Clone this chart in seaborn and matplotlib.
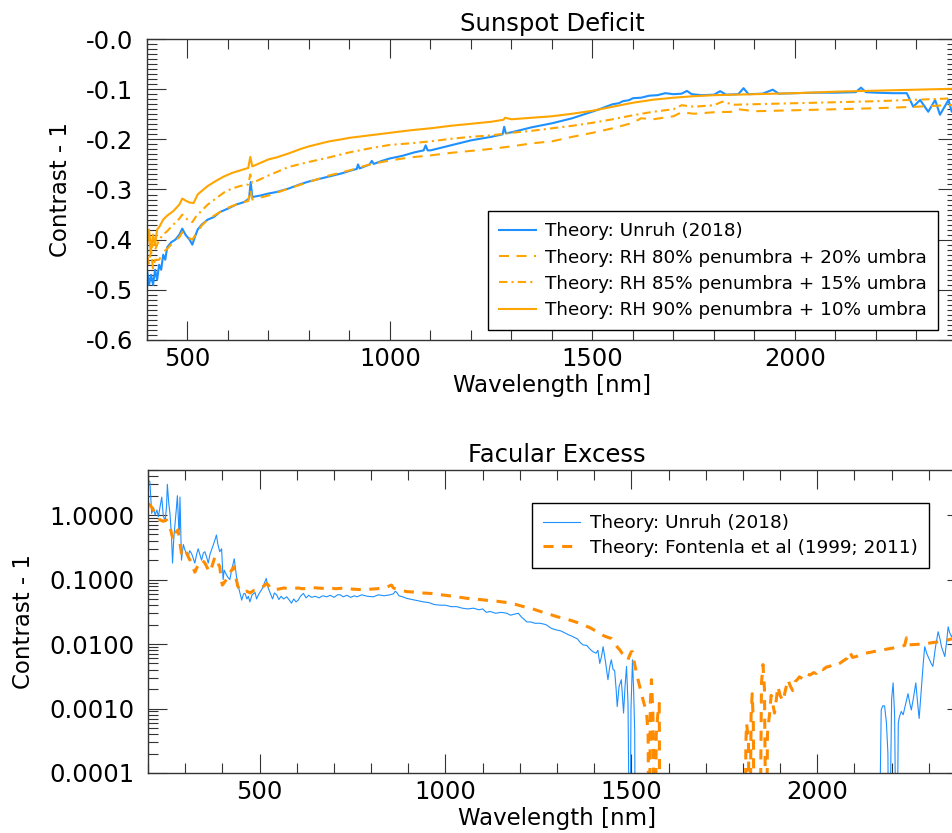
import numpy as np
import seaborn as sns
import matplotlib.pyplot as plt
from matplotlib.ticker import FixedLocator, MultipleLocator, FuncFormatter, LogLocator, NullFormatter

# ---- Sunspot deficit (top panel) ----
wl_unruh_top = [400, 405, 410, 415, 420, 425, 430, 435, 440, 445, 450, 460, 470, 480, 487, 495, 505, 512,
                518, 525, 535, 550, 565, 580, 600, 620, 640, 652, 656, 660, 680, 700, 720, 750, 780, 800,
                830, 860, 880, 900, 918, 921, 925, 950, 955, 960, 980, 1000, 1030, 1060, 1083, 1088, 1093,
                1100, 1150, 1200, 1250, 1278, 1282, 1286, 1300, 1350, 1400, 1450, 1480, 1510, 1530, 1550,
                1565, 1575, 1590, 1600, 1620, 1640, 1660, 1680, 1700, 1720, 1733, 1745, 1770, 1800, 1815,
                1830, 1860, 1873, 1885, 1920, 1945, 1960, 2000, 2050, 2100, 2150, 2163, 2175, 2200, 2240,
                2276, 2292, 2309, 2329, 2346, 2358, 2379, 2387, 2400]
val_unruh_top = [-0.46, -0.49, -0.47, -0.49, -0.46, -0.48, -0.45, -0.46, -0.43, -0.44, -0.415, -0.405, -0.40,
                 -0.39, -0.378, -0.39, -0.40, -0.41, -0.395, -0.38, -0.37, -0.36, -0.355, -0.345, -0.338,
                 -0.33, -0.325, -0.318, -0.285, -0.315, -0.312, -0.308, -0.305, -0.298, -0.289, -0.284,
                 -0.278, -0.272, -0.268, -0.263, -0.259, -0.250, -0.258, -0.250, -0.243, -0.249, -0.243,
                 -0.238, -0.233, -0.226, -0.222, -0.212, -0.222, -0.222, -0.212, -0.202, -0.195, -0.19,
                 -0.175, -0.188, -0.186, -0.176, -0.168, -0.158, -0.15, -0.142, -0.136, -0.13, -0.128,
                 -0.124, -0.122, -0.118, -0.117, -0.113, -0.112, -0.108, -0.11, -0.109, -0.1035, -0.11,
                 -0.112, -0.111, -0.104, -0.111, -0.11, -0.098, -0.11, -0.109, -0.101, -0.109, -0.108,
                 -0.107, -0.107, -0.106, -0.097, -0.106, -0.107, -0.108, -0.108, -0.135, -0.1215, -0.145,
                 -0.1215, -0.151, -0.1215, -0.145, -0.14]

wl_rh80 = [400, 405, 410, 415, 420, 430, 440, 450, 465, 480, 487, 500, 512, 520, 535, 550, 570, 590, 610,
           630, 650, 655, 660, 700, 750, 800, 850, 900, 950, 1000, 1050, 1100, 1150, 1200, 1250, 1300,
           1350, 1400, 1450, 1500, 1550, 1600, 1620, 1650, 1700, 1720, 1750, 1800, 1850, 1860, 1900,
           1950, 2000, 2100, 2200, 2300, 2400]
val_rh80 = [-0.43, -0.45, -0.42, -0.46, -0.44, -0.44, -0.425, -0.418, -0.405, -0.395, -0.385, -0.395, -0.40,
            -0.39, -0.372, -0.36, -0.35, -0.34, -0.333, -0.327, -0.323, -0.30, -0.32, -0.312, -0.298,
            -0.285, -0.272, -0.262, -0.25, -0.242, -0.236, -0.232, -0.227, -0.223, -0.219, -0.214,
            -0.208, -0.204, -0.195, -0.187, -0.178, -0.167, -0.158, -0.16, -0.154, -0.146, -0.149, -0.146,
            -0.145, -0.14, -0.144, -0.143, -0.142, -0.14, -0.138, -0.135, -0.131]

wl_rh85 = [400, 405, 410, 415, 420, 430, 440, 450, 465, 480, 487, 500, 512, 520, 535, 550, 570, 590, 610,
           630, 650, 655, 660, 700, 750, 800, 850, 900, 950, 1000, 1050, 1100, 1150, 1200, 1250, 1300,
           1350, 1400, 1450, 1500, 1550, 1600, 1650, 1700, 1720, 1750, 1800, 1820, 1850, 1900, 1950,
           2000, 2100, 2200, 2300, 2400]
val_rh85 = [-0.41, -0.39, -0.43, -0.40, -0.42, -0.40, -0.39, -0.383, -0.37, -0.358, -0.35, -0.36, -0.365,
            -0.355, -0.342, -0.33, -0.318, -0.306, -0.298, -0.293, -0.29, -0.27, -0.287, -0.272, -0.255,
            -0.245, -0.236, -0.226, -0.218, -0.211, -0.208, -0.204, -0.199, -0.195, -0.192, -0.187,
            -0.183, -0.178, -0.173, -0.167, -0.16, -0.152, -0.145, -0.14, -0.132, -0.135, -0.132, -0.125,
            -0.131, -0.13, -0.129, -0.128, -0.126, -0.124, -0.121, -0.118]

wl_rh90 = [400, 405, 410, 415, 420, 425, 430, 440, 450, 465, 480, 487, 495, 505, 515, 525, 535, 550, 570,
           590, 610, 630, 650, 655, 660, 680, 700, 720, 750, 780, 800, 830, 850, 880, 900, 950, 1000,
           1050, 1100, 1150, 1200, 1250, 1280, 1284, 1300, 1350, 1400, 1450, 1500, 1550, 1600, 1650,
           1700, 1750, 1800, 1850, 1900, 1950, 2000, 2100, 2200, 2300, 2400]
val_rh90 = [-0.40, -0.38, -0.42, -0.39, -0.41, -0.38, -0.375, -0.36, -0.352, -0.343, -0.33, -0.318, -0.322,
            -0.326, -0.327, -0.31, -0.303, -0.293, -0.283, -0.274, -0.267, -0.262, -0.257, -0.235, -0.254,
            -0.247, -0.24, -0.236, -0.228, -0.219, -0.214, -0.208, -0.204, -0.2, -0.197, -0.192, -0.187,
            -0.182, -0.178, -0.173, -0.169, -0.165, -0.161, -0.157, -0.16, -0.157, -0.154, -0.149, -0.143,
            -0.135, -0.127, -0.121, -0.117, -0.114, -0.112, -0.111, -0.11, -0.109, -0.108, -0.105, -0.103,
            -0.101, -0.099]

# ---- Facular excess (bottom panel) ----
wl_unruh_bot = [200, 205, 210, 215, 219, 224, 228, 232, 237, 241, 246, 250, 252, 256, 259, 263, 266, 269,
                272, 276, 279, 282, 284, 286, 290, 295, 299, 304, 308, 312, 317, 321, 326, 331, 335, 340,
                344, 349, 353, 358, 362, 367, 371, 376, 380, 384, 388, 393, 398, 402, 405, 409, 414, 420,
                426, 432, 435, 438, 445, 452, 457, 461, 466, 470, 474, 480, 488, 492, 497, 502, 506, 512,
                518, 523, 528, 535, 540, 546, 552, 558, 565, 573, 580, 586, 592, 598, 604, 610, 618, 625,
                632, 640, 650, 660, 670, 681, 690, 700, 710, 717, 725, 735, 745, 755, 762, 775, 790, 806,
                820, 835, 851, 860, 865, 869, 875, 885, 896, 910, 925, 941, 955, 970, 986, 1000, 1015,
                1030, 1045, 1060, 1075, 1090, 1100, 1110, 1120, 1135, 1150, 1165, 1175, 1185, 1196, 1205,
                1212, 1219, 1230, 1240, 1255, 1270, 1285, 1299, 1310, 1320, 1330, 1343, 1355, 1363, 1370,
                1380, 1390, 1397, 1405, 1410, 1415, 1420, 1424, 1430, 1437, 1442, 1446, 1451, 1455, 1459,
                1462, 1467, 1473, 1476, 1479, 1483, 1487, 1491, 1496, 1499, 1503, 1506, 1509, 1511,
                2165, 2172, 2176, 2181, 2186, 2190, 2193, 2200, 2204, 2208, 2213, 2218, 2221, 2226, 2231,
                2238, 2244, 2249, 2253, 2259, 2265, 2270, 2274, 2280, 2285, 2289, 2295, 2302, 2307, 2311,
                2318, 2325, 2330, 2334, 2339, 2343, 2348, 2352, 2356, 2361, 2370, 2380, 2400]
val_unruh_bot = [3.5, 3.3, 1.06, 1.3, 1.0, 1.2, 0.94, 1.3, 1.9, 1.0, 0.79, 1.4, 3.0, 1.5, 1.06, 0.5, 0.18,
                 0.4, 0.66, 1.2, 2.0, 0.8, 0.59, 1.9, 0.2, 0.35, 0.29, 0.25, 0.225, 0.28, 0.255, 0.22, 0.18,
                 0.25, 0.30, 0.24, 0.2, 0.26, 0.27, 0.22, 0.18, 0.25, 0.29, 0.35, 0.41, 0.49, 0.35, 0.27,
                 0.30, 0.1, 0.14, 0.125, 0.11, 0.1, 0.15, 0.21, 0.15, 0.11, 0.07, 0.048, 0.06, 0.061, 0.05,
                 0.055, 0.045, 0.058, 0.063, 0.05, 0.058, 0.065, 0.07, 0.085, 0.104, 0.075, 0.063, 0.05,
                 0.062, 0.058, 0.049, 0.055, 0.05, 0.054, 0.048, 0.043, 0.05, 0.045, 0.048, 0.055, 0.061,
                 0.052, 0.057, 0.053, 0.055, 0.052, 0.056, 0.054, 0.057, 0.053, 0.058, 0.058, 0.054, 0.057,
                 0.053, 0.056, 0.054, 0.058, 0.055, 0.054, 0.058, 0.056, 0.058, 0.06, 0.066, 0.063, 0.056,
                 0.054, 0.051, 0.049, 0.047, 0.045, 0.044, 0.041, 0.040, 0.040, 0.038, 0.038, 0.036, 0.035,
                 0.036, 0.034, 0.035, 0.031, 0.032, 0.030, 0.031, 0.030, 0.028, 0.029, 0.030, 0.026, 0.024,
                 0.022, 0.022, 0.021, 0.021, 0.020, 0.0175, 0.0165, 0.016, 0.015, 0.014, 0.013, 0.012,
                 0.0105, 0.0097, 0.0095, 0.0082, 0.0076, 0.0072, 0.008, 0.005, 0.0065, 0.0091, 0.0055,
                 0.0028, 0.0045, 0.0057, 0.004, 0.0039, 0.002, 0.00107, 0.0022, 0.0028, 0.0015, 0.00085,
                 0.0022, 0.0045, 0.0012, 1e-6, 0.001, 0.0057, 0.002, 0.00044, 1e-6,
                 1e-6, 0.00095, 0.0011, 0.0011, 0.0006, 0.0002, 1e-6, 0.0014, 0.0025, 0.0008, 1e-6, 0.0006,
                 0.00075, 0.0009, 0.0008, 0.0012, 0.0017, 0.0012, 0.00095, 0.0015, 0.0025, 0.0012, 0.0007,
                 0.002, 0.005, 0.0091, 0.007, 0.0057, 0.0049, 0.0045, 0.009, 0.0155, 0.012, 0.0091, 0.0075,
                 0.0064, 0.011, 0.0185, 0.015, 0.013, 0.016, 0.014, 0.015]

wl_fontenla = [200, 207, 214, 223, 232, 241, 250, 259, 264, 268, 272, 276, 281, 285, 290, 295, 299, 305,
               309, 313, 320, 326, 333, 340, 346, 353, 360, 366, 372, 380, 385, 390, 393, 397, 400, 405,
               411, 418, 425, 431, 436, 441, 447, 455, 465, 475, 485, 492, 500, 510, 519, 525, 530, 537,
               550, 565, 580, 591, 605, 615, 627, 640, 655, 672, 690, 705, 717, 735, 750, 770, 788, 800,
               815, 824, 840, 850, 855, 860, 870, 882, 896, 915, 935, 959, 980, 1000, 1030, 1060, 1093,
               1120, 1140, 1165, 1190, 1210, 1235, 1255, 1280, 1299, 1320, 1340, 1355, 1370, 1390, 1405,
               1415, 1425, 1435, 1446, 1455, 1462, 1469, 1475, 1480, 1487, 1491, 1495, 1500, 1503, 1507,
               1510, 1514, 1520, 1527, 1534, 1541, 1545, 1548, 1551, 1554, 1558, 1563, 1567, 1571, 1575,
               1577, 1805, 1808, 1810, 1815, 1818, 1822, 1825, 1828, 1831, 1845, 1850, 1854, 1858, 1863,
               1866, 1869, 1872, 1876, 1880, 1885, 1890, 1894, 1900, 1908, 1915, 1921, 1928, 1934, 1940,
               1946, 1952, 1960, 1970, 1980, 1990, 1997, 2005, 2015, 2025, 2033, 2040, 2050, 2060, 2070,
               2080, 2087, 2095, 2105, 2120, 2135, 2150, 2165, 2180, 2195, 2210, 2225, 2235, 2240, 2245,
               2260, 2284, 2300, 2315, 2329, 2345, 2361, 2380, 2400]
val_fontenla = [1.5, 1.4, 1.2, 1.0, 0.84, 0.8, 0.84, 0.66, 0.5, 0.41, 0.45, 0.55, 0.59, 0.4, 0.255, 0.28,
                0.3, 0.25, 0.22, 0.2, 0.16, 0.13, 0.16, 0.19, 0.2, 0.18, 0.15, 0.13, 0.16, 0.225, 0.2, 0.17,
                0.158, 0.1, 0.082, 0.09, 0.1, 0.12, 0.14, 0.158, 0.11, 0.08, 0.069, 0.064, 0.066, 0.062,
                0.068, 0.069, 0.072, 0.078, 0.087, 0.08, 0.072, 0.069, 0.071, 0.074, 0.072, 0.073, 0.074,
                0.072, 0.073, 0.075, 0.074, 0.073, 0.074, 0.072, 0.073, 0.074, 0.071, 0.07, 0.069, 0.071,
                0.072, 0.073, 0.075, 0.08, 0.082, 0.074, 0.07, 0.068, 0.065, 0.064, 0.062, 0.061, 0.059,
                0.057, 0.054, 0.051, 0.049, 0.047, 0.046, 0.044, 0.041, 0.038, 0.035, 0.032, 0.029, 0.0266,
                0.025, 0.023, 0.0215, 0.0198, 0.0178, 0.0158, 0.0146, 0.0135, 0.0128, 0.0122, 0.0105,
                0.009, 0.0081, 0.0072, 0.0068, 0.0058, 0.0057, 0.0066, 0.0076, 0.0076, 0.0055, 0.0045,
                0.0035, 0.0025, 0.0017, 0.0012, 0.00085, 0.0004, 1e-6, 0.0012, 0.0028, 0.0008, 1e-6,
                0.0004, 0.0008, 0.0012, 1e-6, 1e-6, 0.0003, 0.00059, 0.0003, 1e-6, 0.0008, 0.0017, 0.0006,
                1e-6, 1e-6, 0.0025, 0.0048, 0.002, 1e-6, 0.0004, 0.0006, 0.00085, 0.0016, 0.0012, 0.00085,
                0.0014, 0.0022, 0.0016, 0.0013, 0.002, 0.0028, 0.0022, 0.0019, 0.0026, 0.0028, 0.0031,
                0.0029, 0.0035, 0.0033, 0.0036, 0.0035, 0.0042, 0.004, 0.0044, 0.0045, 0.0048, 0.0047,
                0.005, 0.0055, 0.006, 0.0076, 0.0062, 0.0064, 0.007, 0.0073, 0.0076, 0.0079, 0.0082,
                0.0085, 0.0088, 0.0092, 0.0095, 0.0125, 0.0097, 0.0098, 0.010, 0.0103, 0.0106, 0.0109,
                0.0113, 0.012, 0.0125, 0.013]

top_yticks = [-0.6, -0.5, -0.4, -0.3, -0.2, -0.1, 0.0]
x_ticks = [500, 1000, 1500, 2000]

blue = "#1E90FF"
orange = "#FFA500"
dark_orange = "#FF8C00"

plt.rcParams["font.family"] = ["DejaVu Sans"]
plt.rcParams["axes.edgecolor"] = "#333333"

fig = plt.figure(figsize=(9.52, 8.33), dpi=100)
ax1 = fig.add_axes([0.15441, 0.59184, 0.85084, 0.36134])
ax2 = fig.add_axes([0.15546, 0.07203, 0.85924, 0.36375])

# top panel
sns.lineplot(x=wl_unruh_top, y=val_unruh_top, ax=ax1, color=blue, lw=1.5, label="Theory: Unruh (2018)")
sns.lineplot(x=wl_rh80, y=val_rh80, ax=ax1, color=orange, lw=1.5, linestyle=(0, (4.8, 3.6)),
             label="Theory: RH 80% penumbra + 20% umbra")
sns.lineplot(x=wl_rh85, y=val_rh85, ax=ax1, color=orange, lw=1.5, linestyle=(0, (4, 2, 1, 2)),
             label="Theory: RH 85% penumbra + 15% umbra")
sns.lineplot(x=wl_rh90, y=val_rh90, ax=ax1, color=orange, lw=1.5, label="Theory: RH 90% penumbra + 10% umbra")
ax1.set_xlim(400, 2400)
ax1.set_ylim(-0.6, 0.0)
ax1.yaxis.set_major_locator(FixedLocator(top_yticks))
ax1.yaxis.set_major_formatter(FuncFormatter(lambda v, p: f"-{abs(v):.1f}"))
ax1.yaxis.set_minor_locator(MultipleLocator(0.01))
ax1.set_title("Sunspot Deficit", fontsize=17.5, pad=6)
ax1.legend(loc="lower right", bbox_to_anchor=(0.9765, 0.033), borderaxespad=0, fontsize=13.2,
           fancybox=False, framealpha=1, edgecolor="black", handlelength=2.0, handletextpad=0.5,
           labelspacing=0.45, borderpad=0.6)

# bottom panel
sns.lineplot(x=wl_unruh_bot, y=val_unruh_bot, ax=ax2, color=blue, lw=0.8, label="Theory: Unruh (2018)")
sns.lineplot(x=wl_fontenla, y=val_fontenla, ax=ax2, color=dark_orange, lw=2.2, linestyle=(0, (3.3, 2.8)),
             label="Theory: Fontenla et al (1999; 2011)")
ax2.set_yscale("log")
ax2.set_xlim(200, 2400)
ax2.set_ylim(1e-4, 5)
ax2.yaxis.set_major_locator(LogLocator(base=10))
ax2.yaxis.set_major_formatter(FuncFormatter(lambda v, p: f"{v:.4f}"))
ax2.yaxis.set_minor_locator(LogLocator(base=10, subs=np.arange(2, 10)))
ax2.yaxis.set_minor_formatter(NullFormatter())
ax2.set_title("Facular Excess", fontsize=17.5, pad=6)
ax2.legend(loc="upper right", bbox_to_anchor=(0.9548, 0.891), borderaxespad=0, fontsize=13.3,
           fancybox=False, framealpha=1, edgecolor="black", handlelength=2.0, handletextpad=0.55,
           labelspacing=0.35, borderpad=0.6)

for ax in (ax1, ax2):
    ax.xaxis.set_major_locator(FixedLocator(x_ticks))
    ax.xaxis.set_minor_locator(MultipleLocator(100))
    ax.tick_params(which="both", direction="in", top=True, right=True, width=0.8, color="#333333")
    ax.tick_params(which="major", length=13.7)
    ax.tick_params(which="minor", length=7.2)
    ax.tick_params(axis="x", labelsize=17.5, pad=5)
    ax.tick_params(axis="y", labelsize=17.5, pad=10)
    ax.set_xlabel("Wavelength [nm]", fontsize=16.5, labelpad=2)
    ax.set_ylabel("Contrast - 1", fontsize=16.5, labelpad=10)
    for s in ax.spines.values():
        s.set_linewidth(1.0)

fig.savefig("out.png", dpi=100)
